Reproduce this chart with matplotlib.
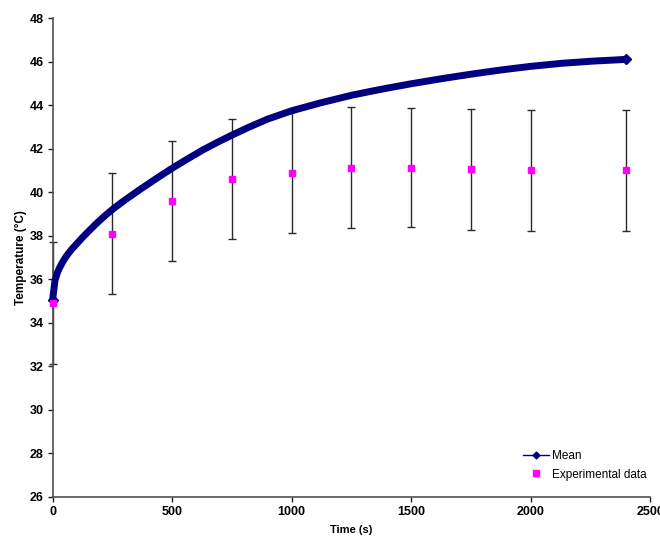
import matplotlib.pyplot as plt
from matplotlib.lines import Line2D

plt.rcParams['font.family'] = ['Liberation Sans', 'DejaVu Sans']

# mean temperature curve (s, degC)
mean_t = [0, 5, 10, 20, 30, 45, 60, 80, 100, 125, 150, 185, 220, 255, 300,
          365, 430, 500, 560, 630, 700, 750, 820, 900, 1000, 1120, 1250, 1330,
          1400, 1500, 1620, 1750, 1880, 2000, 2130, 2260, 2400]
mean_temp = [35.05, 35.5, 35.95, 36.3, 36.55, 36.85, 37.1, 37.38, 37.62, 37.92,
             38.2, 38.58, 38.93, 39.25, 39.62, 40.12, 40.6, 41.1, 41.5, 41.95,
             42.35, 42.62, 42.98, 43.36, 43.74, 44.1, 44.45, 44.63, 44.78,
             44.98, 45.2, 45.42, 45.62, 45.78, 45.92, 46.02, 46.1]

# measurements with spread
exp_t = [0, 250, 500, 750, 1000, 1250, 1500, 1750, 2000, 2400]
exp_temp = [34.9, 38.1, 39.6, 40.6, 40.9, 41.13, 41.13, 41.05, 41.0, 41.0]
exp_err = [2.8, 2.77, 2.75, 2.77, 2.78, 2.76, 2.75, 2.77, 2.78, 2.78]

fig = plt.figure(figsize=(6.6, 5.44), dpi=100)
ax = fig.add_axes([0.0797, 0.0864, 0.9056, 0.8805])

ax.errorbar(exp_t, exp_temp, yerr=exp_err, fmt='none', ecolor='#2a2a2a',
            elinewidth=1, capsize=3, capthick=1, clip_on=False, zorder=2)
ax.plot(mean_t, mean_temp, color='#000080', lw=5, marker='D', ms=5.5,
        markevery=[0, len(mean_t) - 1], solid_capstyle='round',
        solid_joinstyle='round', zorder=3, clip_on=False)
ax.plot(exp_t, exp_temp, 's', color='#FF00FF', ms=4.5, zorder=4,
        clip_on=False)

ax.set_xlim(0, 2500)
ax.set_ylim(26, 48)
ax.set_xticks(range(0, 2501, 500))
ax.set_yticks(range(26, 49, 2))

for s in ['top', 'right']:
    ax.spines[s].set_visible(False)
for s in ['left', 'bottom']:
    ax.spines[s].set_color('#505050')
    ax.spines[s].set_linewidth(1.2)
ax.tick_params(direction='out', length=3.5, width=1, color='#202020',
               labelsize=9, pad=3)
for lab in ax.get_xticklabels() + ax.get_yticklabels():
    lab.set_fontweight('bold')

ax.set_xlabel('Time (s)', fontsize=8, fontweight='bold', labelpad=5)
ax.set_ylabel('Temperature (°C)', fontsize=8.5, fontweight='bold', labelpad=2)

handles = [
    Line2D([], [], color='#000080', lw=1, marker='D', ms=3.5),
    Line2D([], [], color='#FF00FF', lw=0, marker='s', ms=4),
]
ax.legend(handles, ['Mean', 'Experimental data'], loc='lower right',
          bbox_to_anchor=(1.012, 0.012), frameon=False, fontsize=8.5,
          handlelength=2.2, handletextpad=0.3, labelspacing=0.55)

fig.savefig('out.png', dpi=100)
